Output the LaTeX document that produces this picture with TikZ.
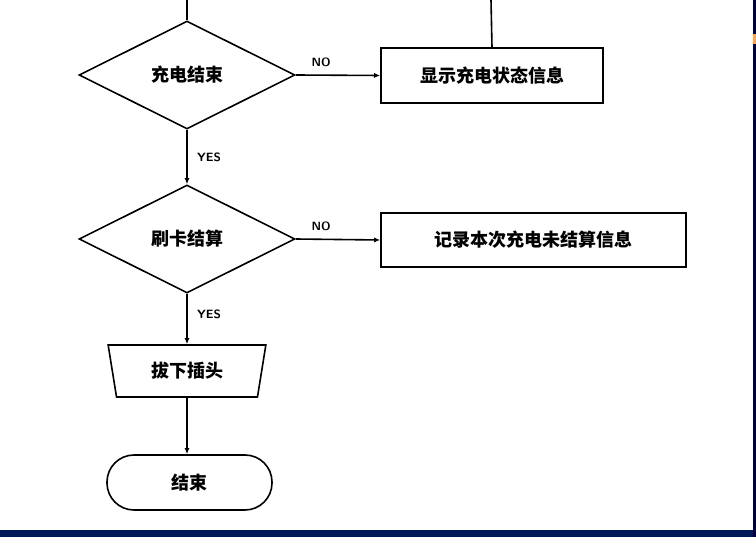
\documentclass[tikz,border=0pt]{standalone}
\usepackage{fontspec}
\newfontfamily\cjk{Noto Sans CJK SC}[BoldFont={Noto Sans CJK SC Black}]
\usetikzlibrary{shapes.geometric,shapes.misc,arrows.meta}
\begin{document}
\begin{tikzpicture}[x=1pt,y=-1pt,
  lw/.style={line width=1.6pt},
  dia/.style={draw,lw,diamond,minimum width=216pt,minimum height=108pt,inner sep=0pt,font=\cjk\bfseries\fontsize{18}{18}\selectfont},
  procbox/.style={draw,lw,rectangle,inner sep=0pt,font=\cjk\bfseries\fontsize{18}{18}\selectfont},
  lab/.style={font=\sffamily\bfseries\fontsize{12}{12}\selectfont},
  arr/.style={lw,-{Latex[length=6pt,width=5pt]}}]
\useasboundingbox (0,0) rectangle (756,537);
\fill[white] (0,0) rectangle (756,537);
\fill[black!70!blue!80!teal] (0,530) rectangle (756,537);
\fill[black!75!blue] (753,0) rectangle (756,537);
\fill[orange!70] (753,34) rectangle (756,44);
\coordinate (top1) at (187,0);
\coordinate (top2) at (491,0);
\node[dia] (d1) at (187,75) {充电结束};
\node[procbox,minimum width=222pt,minimum height=55pt] (b1) at (492,75.5) {显示充电状态信息};
\node[dia] (d2) at (187,239) {刷卡结算};
\node[procbox,minimum width=305pt,minimum height=54pt] (b2) at (533.5,240) {记录本次充电未结算信息};
\node[draw,lw,trapezium,shape border rotate=180,trapezium left angle=76,trapezium right angle=76,minimum width=158pt,minimum height=52pt,trapezium stretches=true,inner sep=0pt,font=\cjk\bfseries\fontsize{18}{18}\selectfont] (t) at (187,371) {拔下插头};
\node[draw,lw,rectangle,rounded corners=27pt,minimum width=165pt,minimum height=55pt,inner sep=0pt,font=\cjk\bfseries\fontsize{18}{18}\selectfont] (e) at (189.5,482.5) {结束};
\draw[lw] (top1) -- (d1.north);
\draw[lw] (top2) -- (b1.north);
\draw[arr] (d1.east) -- (b1.west) node[lab,pos=0.3,above=4pt] {NO};
\draw[arr] (d1.south) -- (d2.north) node[lab,midway,right=6pt] {YES};
\draw[arr] (d2.east) -- (b2.west) node[lab,pos=0.3,above=4pt] {NO};
\draw[arr] (d2.south) -- (t.north) node[lab,pos=0.4,right=6pt] {YES};
\draw[arr] (t.south) -- (t.south |- e.north);
\end{tikzpicture}
\end{document}
